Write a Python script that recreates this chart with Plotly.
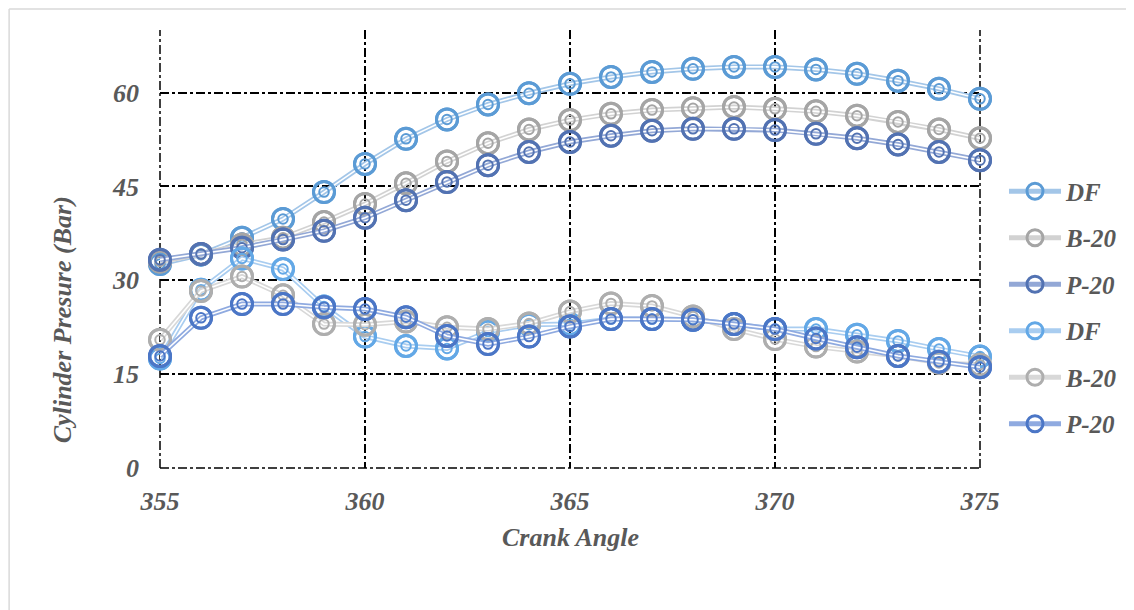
import plotly.graph_objects as go

crank_angle = list(range(355, 376))

df_high = [32.6, 34.1, 36.8, 39.8, 44.1, 48.6, 52.6, 55.7, 58.1, 59.9, 61.4,
           62.5, 63.3, 63.8, 64.1, 64.1, 63.7, 63.0, 61.9, 60.6, 59.0]
b20_high = [33.0, 34.2, 35.7, 36.8, 39.3, 42.2, 45.5, 49.0, 51.9, 54.1, 55.6,
            56.6, 57.2, 57.5, 57.7, 57.4, 57.0, 56.3, 55.3, 54.1, 52.7]
p20_high = [33.3, 34.2, 35.2, 36.5, 37.9, 40.0, 42.8, 45.7, 48.4, 50.5, 52.1,
            53.1, 53.9, 54.2, 54.2, 54.0, 53.4, 52.7, 51.7, 50.5, 49.2]
df_low = [17.5, 28.5, 33.5, 31.8, 25.8, 21.0, 19.5, 19.1, 21.8, 22.9, 23.0,
          23.8, 23.8, 23.7, 23.0, 22.2, 22.2, 21.3, 20.3, 19.0, 17.8]
b20_low = [20.5, 28.3, 30.6, 27.6, 23.0, 22.9, 23.4, 22.5, 22.2, 23.1, 25.0,
           26.3, 25.9, 24.2, 22.2, 20.6, 19.4, 18.6, 17.9, 16.8, 16.5]
p20_low = [17.9, 24.0, 26.2, 26.2, 25.7, 25.4, 24.1, 21.1, 19.8, 21.0, 22.6,
           23.8, 23.8, 23.7, 23.0, 22.2, 20.7, 19.3, 17.9, 17.0, 16.1]

series_names = ["DF", "B-20", "P-20", "DF", "B-20", "P-20"]
series_values = [df_high, b20_high, p20_high, df_low, b20_low, p20_low]
marker_colors = ["#5B9BD5", "#A5A5A5", "#5272B2", "#63A8E6", "#AEAEAE", "#4B76C6"]
line_colors = ["#A3C6E8", "#D2D2D2", "#93A8D6", "#A9CDF0", "#D8D8D8", "#8FAAE0"]

x_ticks = [355, 360, 365, 370, 375]
y_ticks = [0, 15, 30, 45, 60]
x_range = [355, 375]
y_range = [0, 70]

FONT = "Liberation Serif"
GRAY = "#595959"

fig = go.Figure()
for i, (name, vals) in enumerate(zip(series_names, series_values)):
    grp = f"g{i}"
    fig.add_trace(go.Scatter(
        x=crank_angle, y=vals, name=name, legendgroup=grp, mode="lines+markers",
        line=dict(color=line_colors[i], width=5),
        marker=dict(symbol="circle-open", size=21, color=marker_colors[i],
                    line=dict(width=3, color=marker_colors[i])),
        cliponaxis=False, showlegend=True))
    fig.add_trace(go.Scatter(
        x=crank_angle, y=vals, legendgroup=grp, mode="lines",
        line=dict(color="white", width=1.6), cliponaxis=False,
        showlegend=False, hoverinfo="skip"))
    fig.add_trace(go.Scatter(
        x=crank_angle, y=vals, legendgroup=grp, mode="markers",
        marker=dict(symbol="circle-open", size=21, color=marker_colors[i],
                    line=dict(width=3, color=marker_colors[i])),
        cliponaxis=False, showlegend=False, hoverinfo="skip"))
    fig.add_trace(go.Scatter(
        x=crank_angle, y=vals, legendgroup=grp, mode="markers",
        marker=dict(symbol="circle-open", size=9.5, color=marker_colors[i],
                    line=dict(width=2, color=marker_colors[i])),
        cliponaxis=False, showlegend=False, hoverinfo="skip"))

tick_font = dict(family=FONT, size=26, color=GRAY, weight="bold", style="italic")
grid_line = dict(color="black", width=1.5, dash="dashdot")

# edge grid lines (plotly omits grid lines on the plot-area boundary);
# drawn in paper coordinates so they are not clipped by the plot area
edge_shapes = [
    dict(type="line", xref="paper", yref="paper", x0=0, x1=0, y0=0, y1=1,
         line=grid_line, layer="below"),
    dict(type="line", xref="paper", yref="paper", x0=1, x1=1, y0=0, y1=1,
         line=grid_line, layer="below"),
    dict(type="line", xref="paper", yref="paper", x0=0, x1=1, y0=0, y1=0,
         line=grid_line, layer="below"),
]
border_shapes = [
    dict(type="line", xref="paper", yref="paper", x0=-0.184, x1=1.3, y0=1.048, y1=1.048,
         line=dict(color="#D9D9D9", width=1.5)),
    dict(type="line", xref="paper", yref="paper", x0=-0.184, x1=-0.184, y0=1.048, y1=-0.4,
         line=dict(color="#D9D9D9", width=1.5)),
]

fig.update_layout(
    width=1126, height=602,
    paper_bgcolor="white", plot_bgcolor="white",
    margin=dict(l=152, r=153, t=22, b=142),
    showlegend=True,
    legend=dict(x=1.028, y=0.684, xanchor="left", yanchor="top",
                font=dict(family=FONT, size=25, color=GRAY, weight="bold", style="italic"),
                tracegroupgap=11, bgcolor="rgba(0,0,0,0)", itemwidth=52),
    xaxis=dict(range=x_range, tickvals=x_ticks,
               showgrid=True, gridcolor="black", griddash="dashdot", gridwidth=1.5,
               zeroline=False, showline=False, ticks="",
               tickfont=tick_font, ticklabelstandoff=15),
    yaxis=dict(range=y_range, tickvals=y_ticks,
               showgrid=True, gridcolor="black", griddash="dashdot", gridwidth=1.5,
               zeroline=False, showline=False, ticks="inside", ticklen=6,
               tickwidth=1.5, tickcolor="black",
               tickfont=tick_font, ticklabelstandoff=20),
    annotations=[
        dict(text="Crank Angle", xref="paper", yref="paper", x=0.5, y=-0.158,
             yanchor="middle", xanchor="center", showarrow=False,
             font=dict(family=FONT, size=26, color=GRAY, weight="bold", style="italic")),
        dict(text="Cylinder Presure (Bar)", xref="paper", yref="paper", x=-0.118, y=0.338,
             textangle=-90, xanchor="center", yanchor="middle", showarrow=False,
             font=dict(family=FONT, size=26, color=GRAY, weight="bold", style="italic")),
    ],
    shapes=edge_shapes + border_shapes,
)

fig.write_html("out.html")
